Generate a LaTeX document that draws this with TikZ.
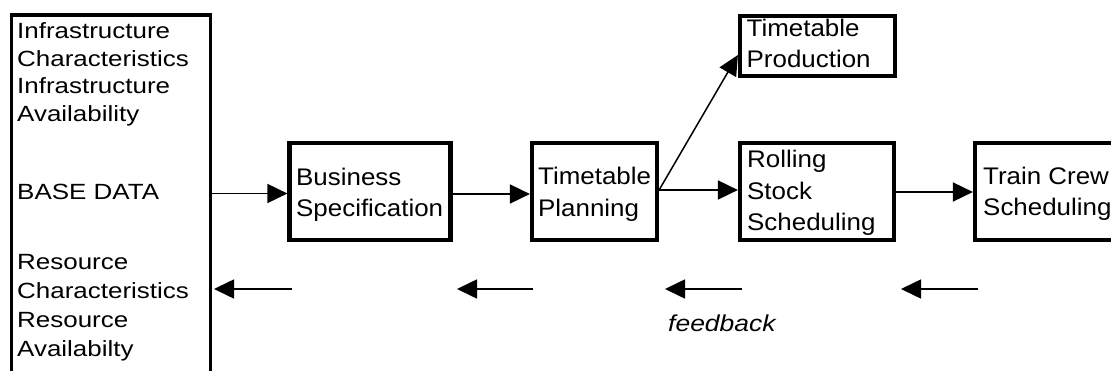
\documentclass[tikz,border=0pt]{standalone}
\usepackage{fontspec}
\setmainfont{Liberation Sans}
\newfontfamily\boxfont[FakeStretch=1.08]{Liberation Sans}
\newfontfamily\datafont[FakeStretch=1.18]{Liberation Sans}
\newfontfamily\notefont[FakeStretch=1.15]{Liberation Sans}
\usetikzlibrary{arrows.meta}

% lines of text stacked with a fixed baseline distance; the baseline of the
% whole block is that of its first line
\newcommand{\stacklines}[2]{\vtop{\baselineskip=#1\relax\lineskiplimit=-\maxdimen
  \halign{##\hfil\cr#2\crcr}}}

\begin{document}
\begin{tikzpicture}[x=1pt,y=-1pt,
  stage/.style={draw, rectangle, line width=4.2pt, inner sep=0pt},
  stagetext/.style={anchor=base west, inner sep=0pt, font=\boxfont\fontsize{24}{31}\selectfont},
  datatext/.style={anchor=base west, inner sep=0pt, font=\datafont\fontsize{22}{28}\selectfont},
  notetext/.style={anchor=base west, inner sep=0pt, font=\notefont\itshape\fontsize{23}{28}\selectfont},
  flow/.style={line width=1.8pt, -{Triangle[length=20pt,width=19pt]}},
  back/.style={line width=1.6pt, -{Triangle[length=20pt,width=19pt]}}]
\clip (0,0) rectangle (1111,371);
\useasboundingbox (0,0) rectangle (1111,371);

% base data column (runs past the lower edge)
\node[stage, line width=3.5pt, minimum width=199pt, minimum height=370pt] (base) at (111,200) {};
\node[datatext] (infra) at (17,38.5)
  {\stacklines{27.7pt}{Infrastructure\cr Characteristics\cr Infrastructure\cr Availability}};
\node[datatext] (basedata) at (17,200) {BASE DATA};
\node[datatext] (resource) at (17,270)
  {\stacklines{29pt}{Resource\cr Characteristics\cr Resource\cr Availabilty}};

% planning stages
\node[stage, minimum width=161pt, minimum height=97pt] (bs) at (370,191.5) {};
\node[stagetext] (bsT) at (296,186) {\stacklines{31pt}{Business\cr Specification}};

\node[stage, minimum width=125pt, minimum height=97pt] (tp) at (594.5,191.5) {};
\node[stagetext] (tpT) at (538,185) {\stacklines{32pt}{Timetable\cr Planning}};

\node[stage, minimum width=155pt, minimum height=60pt] (prod) at (817.5,46) {};
\node[stagetext] (prodT) at (746.5,37) {\stacklines{31pt}{Timetable\cr Production}};

\node[stage, minimum width=154pt, minimum height=97pt] (rs) at (817,191.5) {};
\node[stagetext] (rsT) at (747,168) {\stacklines{31.5pt}{Rolling\cr Stock\cr Scheduling}};

\node[stage, minimum width=160pt, minimum height=97pt] (tc) at (1055,191.5) {};
\node[stagetext] (tcT) at (983,185) {\stacklines{31pt}{Train Crew\cr Scheduling}};

% forward flow
\coordinate (bsIn) at ([yshift=-2pt]bs.west);
\draw[flow] (base.east |- bsIn) -- (bsIn);
\draw[flow] (bs.east |- 0,194) -- (tp.west |- 0,194);
\coordinate (split) at ([yshift=1.5pt]tp.east);
\draw[flow] (split) -- (rs.west |- split);
\draw[flow, line width=1.5pt] (split) -- ([yshift=-9pt]prod.west);
\draw[flow] (rs.east |- 0,192) -- (tc.west |- 0,192);

% feedback
\coordinate (f1s) at (292,289); \coordinate (f1e) at (214,289);
\coordinate (f2s) at (533,289); \coordinate (f2e) at (457,289);
\coordinate (f3s) at (742,289); \coordinate (f3e) at (665,289);
\coordinate (f4s) at (978,289); \coordinate (f4e) at (901,289);
\draw[back] (f1s) -- (f1e);
\draw[back] (f2s) -- (f2e);
\draw[back] (f3s) -- (f3e);
\draw[back] (f4s) -- (f4e);
\node[notetext] (fb) at (668,331.5) {feedback};
\end{tikzpicture}
\end{document}
